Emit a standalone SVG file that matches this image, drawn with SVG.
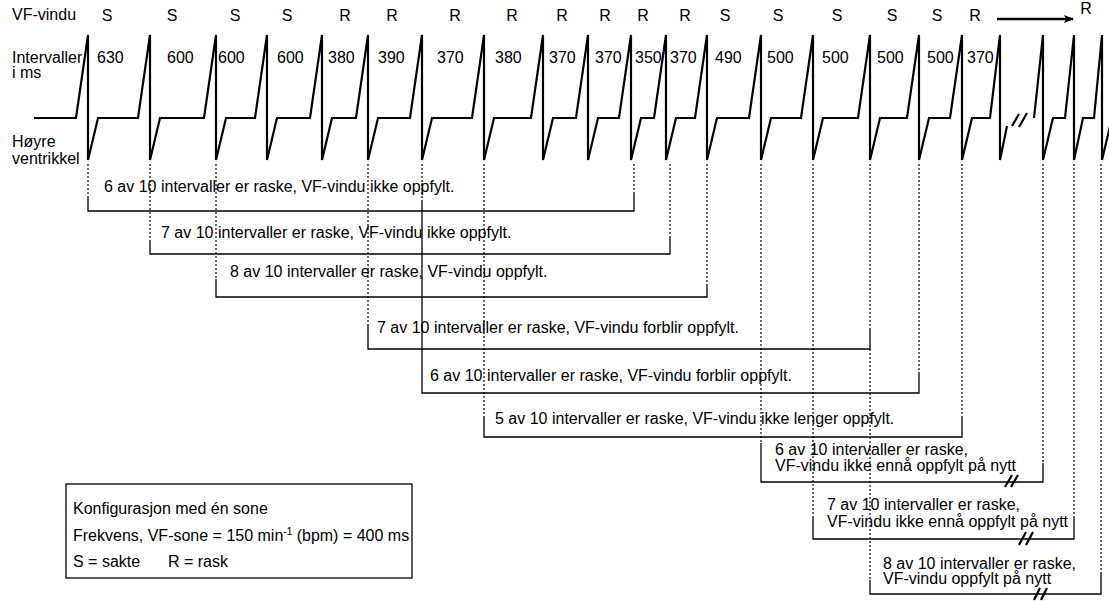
<svg xmlns="http://www.w3.org/2000/svg" width="1109" height="601" viewBox="0 0 1109 601">
<style>
text{font-family:"Liberation Sans",Arial,Helvetica,sans-serif;font-size:16px;fill:#000}
.wave{fill:none;stroke:#000;stroke-width:2.2;stroke-linejoin:miter}
.brk{fill:none;stroke:#000;stroke-width:2.2}
.br{fill:none;stroke:#000;stroke-width:1.3}
.dot{fill:none;stroke:#000;stroke-width:1.2;stroke-dasharray:2 2}
</style>
<defs>
<marker id="ah" markerWidth="10" markerHeight="8" refX="9" refY="4" orient="auto" markerUnits="userSpaceOnUse">
<path d="M0,0 L10,4 L0,8 L2,4 Z" fill="#000"/>
</marker>
</defs>
<rect width="1109" height="601" fill="#fff"/>
<g id="axis-labels">
<text x="12" y="20">VF-vindu</text>
<text x="12" y="63">Intervaller</text>
<text x="12" y="78">i ms</text>
<text x="12" y="147">Høyre</text>
<text x="12" y="164">ventrikkel</text>
</g>
<g id="vf-window" text-anchor="middle">
<text x="107" y="21">S</text><text x="172" y="21">S</text><text x="235" y="21">S</text><text x="287" y="21">S</text>
<text x="345" y="21">R</text><text x="392" y="21">R</text><text x="455" y="21">R</text><text x="512" y="21">R</text>
<text x="562" y="21">R</text><text x="605" y="21">R</text><text x="643" y="21">R</text><text x="685" y="21">R</text>
<text x="725" y="21">S</text><text x="778" y="21">S</text><text x="837" y="21">S</text><text x="892" y="21">S</text>
<text x="937" y="21">S</text><text x="975" y="21">R</text>
<text x="1086" y="14">R</text>
</g>
<g id="intervals">
<text x="97" y="63">630</text><text x="167" y="63">600</text><text x="218" y="63">600</text><text x="277" y="63">600</text>
<text x="328" y="63">380</text><text x="378" y="63">390</text><text x="437" y="63">370</text><text x="495" y="63">380</text>
<text x="549" y="63">370</text><text x="595" y="63">370</text><text x="635" y="63">350</text><text x="670" y="63">370</text>
<text x="715" y="63">490</text><text x="767" y="63">500</text><text x="822" y="63">500</text><text x="877" y="63">500</text>
<text x="927" y="63">500</text><text x="967" y="63">370</text>
</g>
<g id="arrow">
<line x1="997" y1="19" x2="1073" y2="19" stroke="#000" stroke-width="2.5" marker-end="url(#ah)"/>
</g>
<g id="waveform">
<polyline class="wave" points="34,118 76,118 88,35 88,160 98,118 138,118 150,35 150,160 160,118 204,118 216,35 216,160 226,118 255,118 267,35 267,160 277,118 310,118 322,35 322,160 332,118 356,118 368,35 368,160 378,118 410,118 422,35 422,160 432,118 472,118 484,35 484,160 494,118 531,118 543,35 543,160 553,118 576,118 588,35 588,160 598,118 619,118 631,35 631,160 641,118 654,118 666,35 666,160 676,118 695,118 707,35 707,160 717,118 749,118 761,35 761,160 771,118 801,118 813,35 813,160 823,118 858,118 870,35 870,160 880,118 907,118 919,35 919,160 929,118 950,118 962,35 962,160 972,118 990,118 1000,35 1000,160 1007,126"/>
<polyline class="wave" points="1034,118 1043,35 1043,160 1053,118 1065,118 1074,35 1074,160 1083,118 1094,118 1102,35 1102,160 1112,118"/>
<path class="brk" d="M1012,126 L1019,114 M1019,127 L1027,113"/>
</g>
<g id="connectors">
<path class="dot" d="M88,164 V196 M150,164 V240 M216,164 V279 M368,164 V325 M422,164 V200 M484,164 V416 M634,164 V194 M670,164 V238 M707,164 V284 M761,164 V443 M813,164 V518 M870,164 V328 M870,349 V580 M919,164 V373 M962,164 V417 M1043,164 V463 M1074,164 V518 M1101,164 V573"/>
</g>
<g id="row1">
<path class="br" d="M88,196 V211 H634 V194"/>
<text x="104" y="192">6 av 10 intervaller er raske, VF-vindu ikke oppfylt.</text>
</g>
<g id="row2">
<path class="br" d="M150,240 V254 H670 V238"/>
<text x="161" y="238">7 av 10 intervaller er raske, VF-vindu ikke oppfylt.</text>
</g>
<g id="row3">
<path class="br" d="M216,279 V297 H707 V284"/>
<text x="230" y="277">8 av 10 intervaller er raske, VF-vindu oppfylt.</text>
</g>
<g id="row4">
<path class="br" d="M368,325 V349 H870 V328"/>
<text x="377" y="333">7 av 10 intervaller er raske, VF-vindu forblir oppfylt.</text>
</g>
<g id="row5">
<path class="br" d="M422,200 V393 H919 V373"/>
<text x="430" y="381">6 av 10 intervaller er raske, VF-vindu forblir oppfylt.</text>
</g>
<g id="row6">
<path class="br" d="M484,416 V437 H962 V417"/>
<text x="495" y="424">5 av 10 intervaller er raske, VF-vindu ikke lenger oppfylt.</text>
</g>
<g id="row7">
<path class="br" d="M761,443 V482 H1043 V463"/>
<path class="brk" d="M1005,487 L1012,475 M1011,487 L1018,475"/>
<text x="775" y="455">6 av 10 intervaller er raske,</text>
<text x="775" y="471">VF-vindu ikke ennå oppfylt på nytt</text>
</g>
<g id="row8">
<path class="br" d="M813,518 V539 H1074 V518"/>
<path class="brk" d="M1019,545 L1026,532 M1026,545 L1033,532"/>
<text x="827" y="510">7 av 10 intervaller er raske,</text>
<text x="827" y="527">VF-vindu ikke ennå oppfylt på nytt</text>
</g>
<g id="row9">
<path class="br" d="M870,580 V594 H1101 V573"/>
<path class="brk" d="M1034,600 L1040,588 M1041,600 L1047,588"/>
<text x="883" y="569">8 av 10 intervaller er raske,</text>
<text x="883" y="584">VF-vindu oppfylt på nytt</text>
</g>
<g id="legend">
<rect x="66" y="484" width="346" height="94" fill="none" stroke="#000" stroke-width="1.3"/>
<text x="73" y="514">Konfigurasjon med én sone</text>
<text x="73" y="541">Frekvens, VF-sone = 150 min<tspan font-size="10" dy="-6">-1</tspan><tspan dy="6"> (bpm) = 400 ms</tspan></text>
<text x="73" y="567">S = sakte<tspan x="168">R = rask</tspan></text>
</g>
</svg>
